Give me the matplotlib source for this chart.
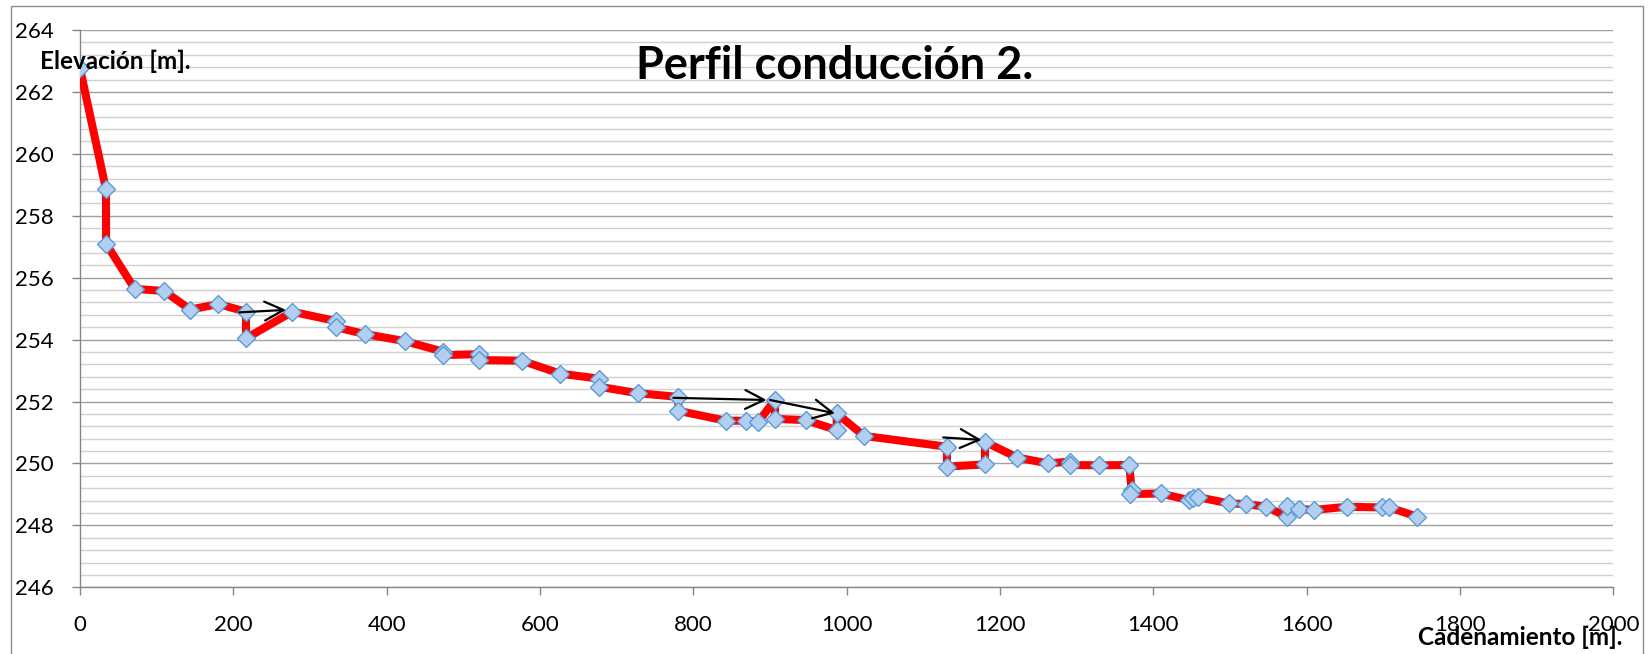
import matplotlib.pyplot as plt
from matplotlib.patches import Rectangle
from matplotlib.ticker import MultipleLocator

plt.rcParams['font.family'] = ['Lato', 'DejaVu Sans']

# cadenamiento [m] y elevación [m] de cada punto de la conducción
cadenamiento = [0, 33.9, 34, 71.3, 109.6, 143.9, 180.4, 216.5, 216.5, 276.9,
                333.9, 333.9, 371.7, 423.9, 473.9, 473.9, 520.4, 520.4, 576.1, 626.5,
                676.9, 676.9, 727.4, 780.4, 780.4, 842.6, 868.2, 884.7, 906.5, 906.5,
                946.5, 987, 987, 1022.6, 1130.8, 1130.8, 1180.4, 1180.4, 1222.6, 1263,
                1291, 1291, 1329.5, 1368.6, 1371.7, 1369.6, 1409.5, 1446, 1451.3, 1458.6,
                1498.7, 1520.4, 1547, 1574.7, 1574.7, 1589.5, 1609.5, 1652.6, 1697.8, 1707.8,
                1744.3]
elevacion = [262.76, 258.85, 257.10, 255.64, 255.57, 254.97, 255.15, 254.90, 254.04, 254.90,
             254.60, 254.40, 254.18, 253.95, 253.61, 253.50, 253.53, 253.34, 253.32, 252.90,
             252.74, 252.48, 252.27, 252.15, 251.70, 251.38, 251.38, 251.35, 252.05, 251.44,
             251.40, 251.08, 251.62, 250.89, 250.54, 249.90, 249.97, 250.70, 250.19, 250.00,
             250.06, 249.95, 249.94, 249.95, 249.14, 249.01, 249.03, 248.82, 248.87, 248.91,
             248.71, 248.69, 248.60, 248.28, 248.63, 248.53, 248.50, 248.60, 248.58, 248.58,
             248.28]

# flechas de referencia (origen -> destino)
flecha_x0 = [207.8, 774.0, 900.0, 1126.0]
flecha_y0 = [254.88, 252.12, 252.05, 250.84]
flecha_x1 = [268.7, 895.6, 984.8, 1176.0]
flecha_y1 = [254.96, 252.05, 251.62, 250.76]

fig = plt.figure(figsize=(16.51, 6.54), dpi=100)
ax = fig.add_axes([0.04846, 0.1020, 0.9287, 0.8521])

ax.plot(cadenamiento, elevacion, color='#ff0000', lw=5.8, zorder=3,
        solid_joinstyle='round', solid_capstyle='round')
ax.plot(cadenamiento, elevacion, ls='none', marker='D', ms=9.4,
        mfc='#b3cff0', mec='#5b9bd5', mew=1.0, zorder=4)

for x0, y0, x1, y1 in zip(flecha_x0, flecha_y0, flecha_x1, flecha_y1):
    ax.annotate('', xy=(x1, y1), xytext=(x0, y0), zorder=5,
                arrowprops=dict(arrowstyle='->', color='black', lw=1.6,
                                mutation_scale=34, shrinkA=0, shrinkB=0))

ax.set_xlim(0, 2000)
ax.set_ylim(246, 264)
ax.xaxis.set_major_locator(MultipleLocator(200))
ax.yaxis.set_major_locator(MultipleLocator(2))
ax.yaxis.set_minor_locator(MultipleLocator(0.4))

ax.grid(axis='y', which='major', color='#a0a0a0', lw=1.0, zorder=0)
ax.grid(axis='y', which='minor', color='#d0d0d0', lw=1.0, zorder=0)
ax.set_axisbelow(True)

for side in ('top', 'right'):
    ax.spines[side].set_visible(False)
for side in ('left', 'bottom'):
    ax.spines[side].set_color('#868686')
    ax.spines[side].set_linewidth(1.0)

ax.tick_params(axis='both', which='major', direction='out', length=5.8,
               width=1.0, color='#868686', labelsize=16, labelcolor='black')
ax.tick_params(axis='x', pad=14)
ax.tick_params(axis='y', pad=13)
ax.tick_params(axis='y', which='minor', length=0)

fig.text(0.5055, 0.879, 'Perfil conducción 2.', fontsize=32.5, fontweight='bold',
         ha='center', va='baseline')
fig.text(0.02423, 0.8945, 'Elevación [m].', fontsize=17.5, fontweight='bold',
         ha='left', va='baseline', zorder=6)
fig.text(0.8589, 0.01376, 'Cadenamiento [m].', fontsize=17.5, fontweight='bold',
         ha='left', va='baseline')

fig.patches.append(Rectangle((11 / 1651, -0.05), (1643 - 11) / 1651, 1.05 - 6 / 654,
                             transform=fig.transFigure, fill=False,
                             edgecolor='#8c8c8c', lw=1.0))

fig.savefig('out.png', dpi=100)
